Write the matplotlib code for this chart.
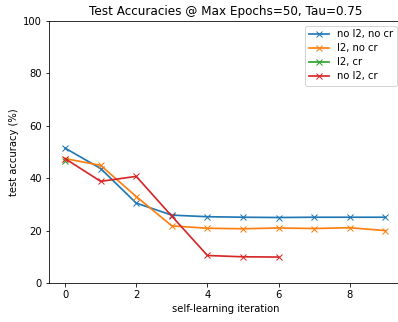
import matplotlib
matplotlib.use("Agg")
import matplotlib.pyplot as plt

iters_blue = [0, 1, 2, 3, 4, 5, 6, 7, 8, 9]
no_l2_no_cr = [51.5, 43.7, 30.5, 25.9, 25.3, 25.1, 25.0, 25.1, 25.1, 25.1]
iters_orange = [0, 1, 2, 3, 4, 5, 6, 7, 8, 9]
l2_no_cr = [47.5, 44.9, 33.0, 21.8, 20.9, 20.7, 21.0, 20.8, 21.1, 20.0]
iters_green = [0]
l2_cr = [46.5]
iters_red = [0, 1, 2, 3, 4, 5, 6]
no_l2_cr = [47.5, 38.8, 40.7, 25.5, 10.5, 10.0, 9.9]

W, H, DPI = 398, 322, 72
fig = plt.figure(figsize=(W / DPI, H / DPI), dpi=DPI)
ax = fig.add_axes([49 / W, (H - 283) / H, (401.5 - 49) / W, (283 - 21) / H])
lw = 1.7
ax.plot(iters_blue, no_l2_no_cr, marker='x', lw=lw, label='no l2, no cr')
ax.plot(iters_orange, l2_no_cr, marker='x', lw=lw, label='l2, no cr')
ax.plot(iters_green, l2_cr, marker='x', lw=lw, label='l2, cr')
ax.plot(iters_red, no_l2_cr, marker='x', lw=lw, label='no l2, cr')
ax.set_ylim(0, 100)
ax.set_xlim(-0.45, 9.45)
ax.set_title('Test Accuracies @ Max Epochs=50, Tau=0.75')
ax.set_xlabel('self-learning iteration')
ax.set_ylabel('test accuracy (%)')
ax.legend(loc='upper right', bbox_to_anchor=(397 / W, 1 - 25.5 / H),
          bbox_transform=fig.transFigure, borderaxespad=0, labelspacing=0.4)
fig.savefig('out.png', dpi=DPI)
